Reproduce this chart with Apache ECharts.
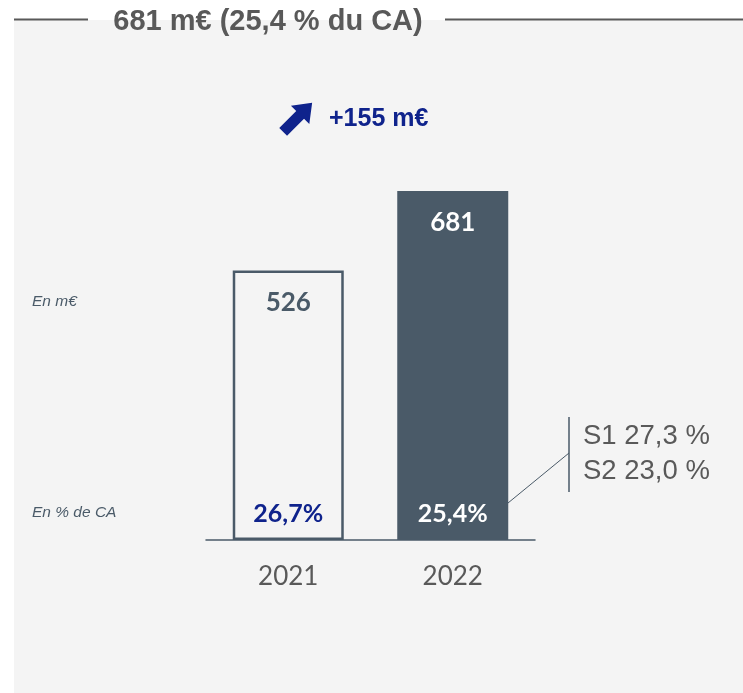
<!DOCTYPE html>
<html>
<head>
<meta charset="utf-8">
<script src="https://cdn.jsdelivr.net/npm/echarts@6/dist/echarts.min.js"></script>
<style>
  html, body { margin: 0; padding: 0; background: #fff; }
  #chart { width: 743px; height: 693px; }
</style>
</head>
<body>
<div id="chart"></div>
<script>
const categories = ['2021', '2022'];
const marginValues = [526, 681];
const marginPct = ['26,7%', '25,4%'];
const titleText = '681 m€ (25,4 % du CA)';
const halfYears = ['S1 27,3 %', 'S2 23,0 %'];

const slate = '#4a5a68';
const navy = '#0f238c';
const grey = '#595959';
const panel = '#f4f4f4';
const delta = marginValues[1] - marginValues[0];

const chart = echarts.init(document.getElementById('chart'), null, { renderer: 'canvas' });
chart.setOption({
  backgroundColor: '#fff',
  animation: false,
  grid: { left: 206, width: 329, top: 130, bottom: 153 },
  xAxis: {
    type: 'category', data: categories,
    axisLine: { lineStyle: { color: slate, width: 1.5 } },
    axisTick: { show: false },
    axisLabel: { color: grey, fontFamily: 'Lato', fontSize: 26, margin: 24 }
  },
  yAxis: { type: 'value', min: 0, max: 800, show: false },
  series: [
    {
      type: 'bar', barWidth: 111, z: 2,
      data: marginValues.map((v, i) => ({
        value: v,
        itemStyle: i === 0
          ? { color: panel, borderColor: slate, borderWidth: 2.5 }
          : { color: slate },
        label: { color: i === 0 ? slate : '#fff' }
      })),
      label: {
        show: true, position: 'insideTop', distance: 19,
        fontFamily: 'Lato', fontWeight: 'bold', fontSize: 26
      }
    },
    {
      type: 'bar', barWidth: 111, barGap: '-100%', z: 3, silent: true,
      itemStyle: { color: 'transparent' },
      data: marginValues.map((v, i) => ({
        value: v,
        label: { color: i === 0 ? navy : '#fff' }
      })),
      label: {
        show: true, position: 'insideBottom', distance: 14,
        fontFamily: 'Lato', fontWeight: 'bold', fontSize: 25,
        formatter: p => marginPct[p.dataIndex]
      }
    }
  ],
  graphic: [
    { type: 'rect', z: -10, shape: { x: 14, y: 20, width: 729, height: 673 }, style: { fill: panel } },
    { type: 'line', shape: { x1: 14, y1: 19.5, x2: 88, y2: 19.5 }, style: { stroke: grey, lineWidth: 2 } },
    { type: 'line', shape: { x1: 445, y1: 19.5, x2: 743, y2: 19.5 }, style: { stroke: grey, lineWidth: 2 } },
    { type: 'text', x: 268, y: 22, style: { text: titleText, fill: grey, font: 'bold 29px "Liberation Sans"', align: 'center', verticalAlign: 'middle' } },
    {
      type: 'polygon', x: 298, y: 117, rotation: Math.PI / 4,
      shape: { points: [[-21, -5.5], [3, -5.5], [3, -13], [20, 0], [3, 13], [3, 5.5], [-21, 5.5]] },
      style: { fill: navy }
    },
    { type: 'text', x: 329, y: 119, style: { text: '+' + delta + ' m€', fill: navy, font: 'bold 25px "Liberation Sans"', verticalAlign: 'middle' } },
    { type: 'text', x: 32, y: 302, style: { text: 'En m€', fill: slate, font: 'italic 15.5px "Liberation Sans"', verticalAlign: 'middle' } },
    { type: 'text', x: 32, y: 513, style: { text: 'En % de CA', fill: slate, font: 'italic 15.5px "Liberation Sans"', verticalAlign: 'middle' } },
    { type: 'line', shape: { x1: 508, y1: 503, x2: 569, y2: 453 }, style: { stroke: slate, lineWidth: 1 } },
    { type: 'line', shape: { x1: 569, y1: 417, x2: 569, y2: 492 }, style: { stroke: slate, lineWidth: 1.5 } },
    { type: 'text', x: 583, y: 436, style: { text: halfYears[0], fill: grey, font: '27.5px "Liberation Sans"', verticalAlign: 'middle' } },
    { type: 'text', x: 583, y: 471, style: { text: halfYears[1], fill: grey, font: '27.5px "Liberation Sans"', verticalAlign: 'middle' } }
  ]
});
</script>
</body>
</html>
